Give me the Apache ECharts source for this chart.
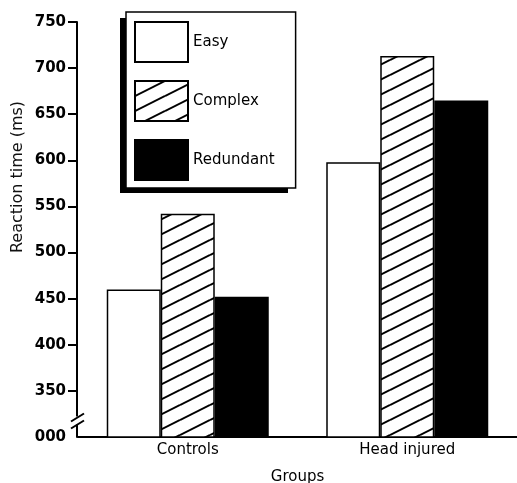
<!DOCTYPE html>
<html>
<head>
<meta charset="utf-8">
<script src="https://cdn.jsdelivr.net/npm/echarts@6/dist/echarts.min.js"></script>
<style>
html,body{margin:0;padding:0;background:#fff;}
#chart{width:517px;height:483px;}
</style>
</head>
<body>
<div id="chart"></div>
<script>
// ---- data ----
var categories = ['Controls', 'Head injured'];
var seriesNames = ['Easy', 'Complex', 'Redundant'];
var easyValues = [460, 598];
var complexValues = [542, 713];
var redundantValues = [452, 665];
// axis: the bottom value stands for the broken "000" baseline
var axisBase = 300;
var tickValues = [350, 400, 450, 500, 550, 600, 650, 700, 750];
var tickLabels = ['000', '350', '400', '450', '500', '550', '600', '650', '700', '750'];
var labelValues = [300, 350, 400, 450, 500, 550, 600, 650, 700, 750];

// hatch pattern
function makeHatch() {
  var W = 30, H = 15;
  var c = document.createElement('canvas');
  c.width = W; c.height = H;
  var ctx = c.getContext('2d');
  ctx.fillStyle = '#fff';
  ctx.fillRect(0, 0, W, H);
  ctx.strokeStyle = '#000';
  ctx.lineWidth = 2;
  for (var k = -1; k <= 1; k++) {
    ctx.beginPath();
    ctx.moveTo(0, H + k * H);
    ctx.lineTo(W, 0 + k * H);
    ctx.stroke();
  }
  return c;
}
var hatch = { image: makeHatch(), repeat: 'repeat' };

var chart = echarts.init(document.getElementById('chart'), null, { renderer: 'canvas' });
var FONT = 'DejaVu Sans';

var option = {
  animation: false,
  backgroundColor: '#fff',
  grid: { left: 78, right: 0, top: 22, bottom: 46, containLabel: false, outerBoundsMode: 'none' },
  legend: {
    orient: 'vertical',
    left: 126,
    top: 12,
    padding: [9, 21, 7, 8],
    itemWidth: 53,
    itemHeight: 40,
    itemGap: 17,
    backgroundColor: '#fff',
    borderColor: '#000',
    borderWidth: 1.5,
    borderRadius: 0,
    textStyle: { fontFamily: FONT, fontSize: 15, color: '#000', padding: [0, 0, 0, 0] },
    data: seriesNames.map(function (n) { return { name: n, icon: 'rect' }; })
  },
  xAxis: {
    type: 'category',
    data: categories,
    name: 'Groups',
    nameLocation: 'middle',
    nameGap: 33,
    nameTextStyle: { fontFamily: FONT, fontSize: 15, color: '#000' },
    axisLine: { lineStyle: { color: '#000', width: 2 } },
    axisTick: { show: false },
    axisLabel: { fontFamily: FONT, fontSize: 15, color: '#000', margin: 6 },
    splitLine: { show: false }
  },
  yAxis: {
    type: 'value',
    min: axisBase,
    max: 750,
    interval: 50,
    offset: 1,
    axisLine: { show: true, lineStyle: { color: '#000', width: 2 } },
    axisTick: { show: true, length: 9, inside: false, customValues: tickValues, lineStyle: { color: '#000', width: 2 } },
    axisLabel: {
      customValues: labelValues,
      fontFamily: FONT, fontSize: 15, fontWeight: 'bold', color: '#000', margin: 11,
      formatter: function (v) { return tickLabels[labelValues.indexOf(v)]; }
    },
    splitLine: { show: false }
  },
  series: [
    {
      name: seriesNames[0], type: 'bar', data: easyValues,
      barWidth: 54, barGap: '0%',
      itemStyle: { color: '#fff', borderColor: '#000', borderWidth: 1.5 }
    },
    {
      name: seriesNames[1], type: 'bar', data: complexValues,
      barWidth: 54, barGap: '0%',
      itemStyle: { color: hatch, borderColor: '#000', borderWidth: 1.5 }
    },
    {
      name: seriesNames[2], type: 'bar', data: redundantValues,
      barWidth: 54, barGap: '0%',
      itemStyle: { color: '#000', borderColor: '#000', borderWidth: 1.5 }
    }
  ]
};
chart.setOption(option);

// decorations: legend shadow, y-axis title, axis break
var yBreak = chart.convertToPixel({ yAxisIndex: 0 }, 319);
var xAxisPx = 77;
chart.setOption({
  graphic: [
    {
      type: 'rect', z: -1, zlevel: 0,
      shape: { x: 120, y: 18, width: 168, height: 175 },
      style: { fill: '#000' }
    },
    {
      type: 'text', x: 18, y: 177, rotation: Math.PI / 2,
      style: { text: 'Reaction time (ms)', fontFamily: FONT, fontSize: 16, fill: '#111', align: 'center', verticalAlign: 'middle' }
    },
    {
      type: 'rect', z: 100,
      shape: { x: xAxisPx - 3, y: yBreak - 3, width: 6, height: 8 },
      style: { fill: '#fff' }
    },
    {
      type: 'line', z: 101,
      shape: { x1: xAxisPx - 6, y1: yBreak + 2, x2: xAxisPx + 7, y2: yBreak - 6 },
      style: { stroke: '#000', lineWidth: 2 }
    },
    {
      type: 'line', z: 101,
      shape: { x1: xAxisPx - 6, y1: yBreak + 9, x2: xAxisPx + 7, y2: yBreak + 1 },
      style: { stroke: '#000', lineWidth: 2 }
    }
  ]
});
</script>
</body>
</html>
